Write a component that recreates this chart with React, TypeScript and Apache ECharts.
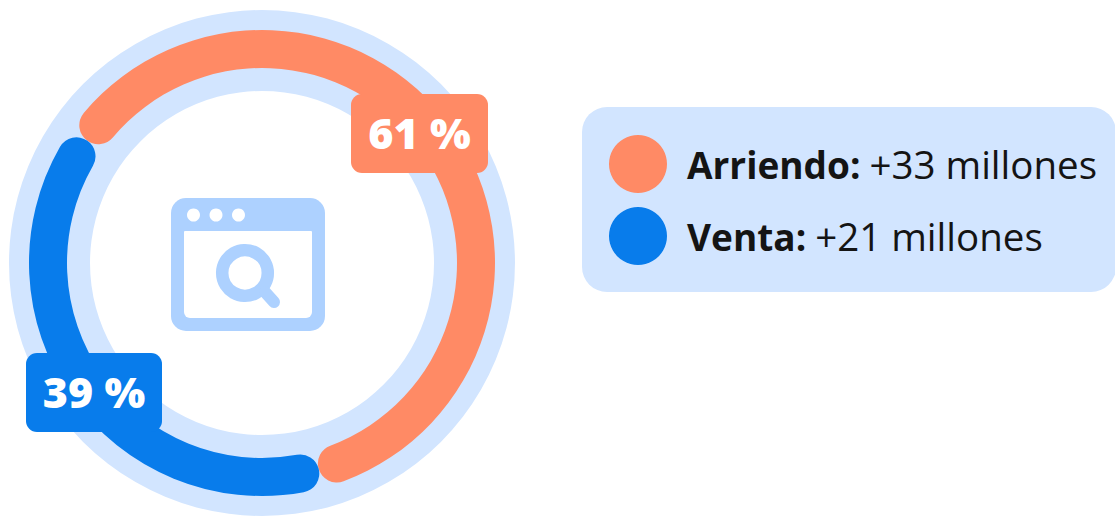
import React, { useEffect, useRef } from "react";
import * as echarts from "echarts";

const categories = ["Arriendo", "Venta"];
const shares = [61, 39];
const legendValues = ["+33 millones", "+21 millones"];
const colors = ["#FF8A65", "#087CEB"];
const ringColor = "#D2E5FF";
const iconColor = "#ADD1FF";
const FONT = "Open Sans";

function badge(x: number, y: number, w: number, h: number, color: string, value: number) {
  return {
    type: "group",
    children: [
      { type: "rect", z: 20, shape: { x, y, width: w, height: h, r: 11 }, style: { fill: color } },
      {
        type: "text",
        z: 21,
        x: x + w / 2,
        y: y + h / 2 - 1,
        style: {
          text: `${value} %`,
          fill: "#FFFFFF",
          font: `800 43px ${FONT}`,
          textAlign: "center",
          textVerticalAlign: "middle",
        },
      },
    ],
  };
}

export default function App() {
  const ref = useRef<HTMLDivElement>(null);
  useEffect(() => {
    const chart = echarts.init(ref.current!, undefined, { renderer: "svg" });
    chart.setOption({
      animation: false,
      backgroundColor: "#FFFFFF",
      legend: {
        data: categories,
        orient: "vertical",
        left: 582,
        top: 107,
        padding: [28, 19, 27, 27],
        itemWidth: 58,
        itemHeight: 58,
        itemGap: 14,
        icon: "circle",
        backgroundColor: ringColor,
        borderRadius: 25,
        selectedMode: false,
        formatter: (name: string) =>
          `{b|${name}:}{r|${legendValues[categories.indexOf(name)]}}`,
        textStyle: {
          rich: {
            b: { fontFamily: FONT, fontWeight: 700, fontSize: 37, color: "#141414", padding: [0, 9, 0, 15] },
            r: { fontFamily: FONT, fontWeight: 400, fontSize: 38.5, color: "#141414" },
          },
        },
      },
      series: [
        {
          type: "pie",
          silent: true,
          center: [262, 263],
          radius: [172, 253],
          label: { show: false },
          labelLine: { show: false },
          itemStyle: { color: ringColor },
          data: [{ value: 1, name: "fondo" }],
          z: 1,
        },
        {
          type: "pie",
          center: [262, 263],
          radius: [195, 233],
          startAngle: 145,
          clockwise: true,
          label: { show: false },
          labelLine: { show: false },
          itemStyle: { borderRadius: 19 },
          data: categories.map((name, i) => ({
            name,
            value: shares[i],
            itemStyle: { color: colors[i] },
          })),
          z: 2,
        },
      ],
      graphic: [
        {
          type: "group",
          children: [
            { type: "rect", z: 10, shape: { x: 171, y: 198, width: 154, height: 133, r: 15 }, style: { fill: iconColor } },
            { type: "rect", z: 11, shape: { x: 184, y: 231, width: 128, height: 87, r: [1, 1, 6, 6] }, style: { fill: "#FFFFFF" } },
            { type: "circle", z: 11, shape: { cx: 193.5, cy: 215, r: 6.5 }, style: { fill: "#FFFFFF" } },
            { type: "circle", z: 11, shape: { cx: 216, cy: 215, r: 6.5 }, style: { fill: "#FFFFFF" } },
            { type: "circle", z: 11, shape: { cx: 238.5, cy: 215, r: 6.5 }, style: { fill: "#FFFFFF" } },
            { type: "circle", z: 12, shape: { cx: 245, cy: 273, r: 22.8 }, style: { fill: "none", stroke: iconColor, lineWidth: 12.5 } },
            { type: "line", z: 12, shape: { x1: 265, y1: 292, x2: 274, y2: 302 }, style: { stroke: iconColor, lineWidth: 12, lineCap: "round" } },
          ],
        },
        badge(351, 94, 137, 79, colors[0], shares[0]),
        badge(26, 353, 136, 79, colors[1], shares[1]),
      ],
    });
    return () => chart.dispose();
  }, []);
  return (
    <div
      ref={ref}
      style={{ position: "fixed", left: 0, top: 0, width: 1115, height: 516 }}
    />
  );
}
